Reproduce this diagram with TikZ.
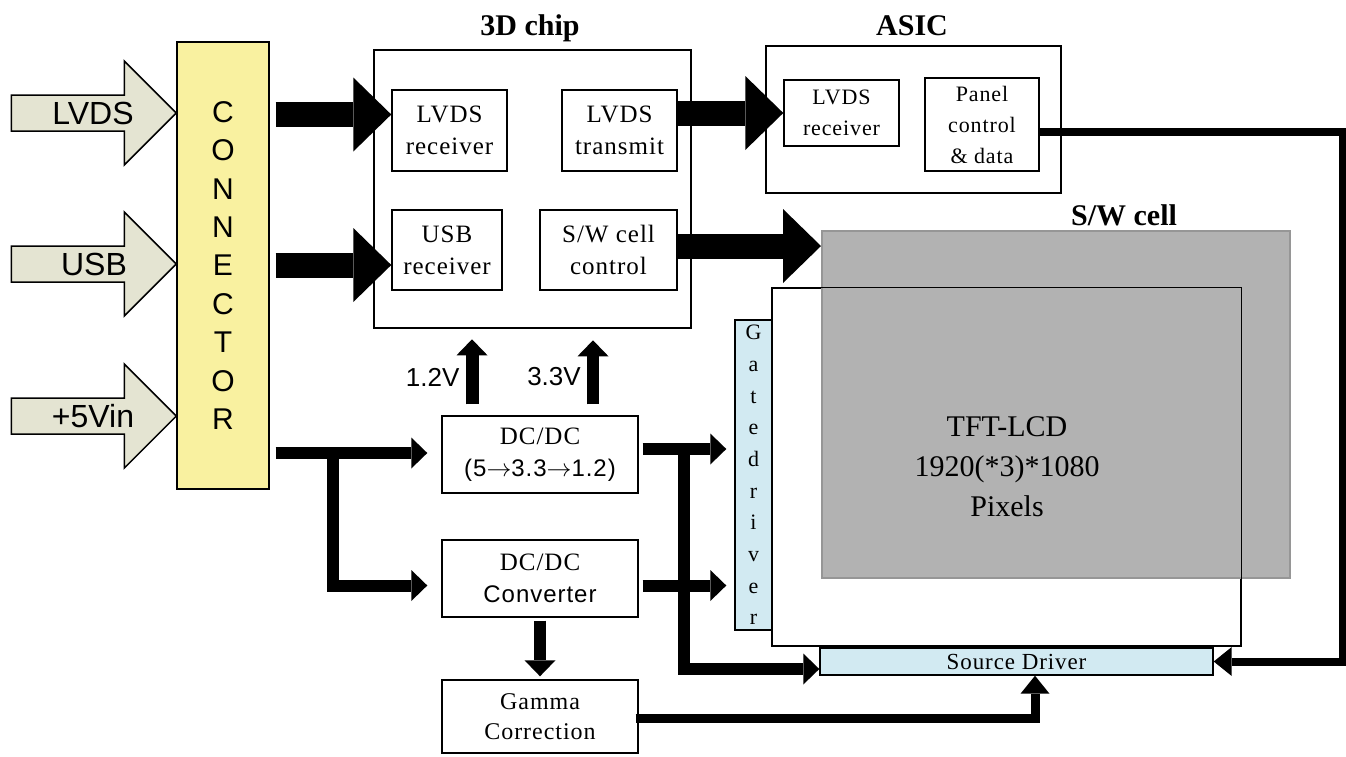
\documentclass[tikz,border=0pt]{standalone}
\usepackage{fontspec}
\setmainfont{Liberation Serif}
\newfontfamily\arialf{Liberation Sans}
\newfontfamily\spserif[LetterSpace=4]{Liberation Serif}
\newfontfamily\spsans[LetterSpace=4]{Liberation Sans}
\usetikzlibrary{arrows.meta,calc}
\definecolor{beige}{RGB}{228,228,210}
\definecolor{connyellow}{RGB}{249,241,160}
\definecolor{cellgray}{RGB}{178,178,178}
\definecolor{cellborder}{RGB}{150,150,150}
\definecolor{drvblue}{RGB}{210,234,242}
\begin{document}
\begin{tikzpicture}[x=1pt,y=-1pt,
  box/.style={draw, line width=1.4pt, fill=white, inner sep=0pt, align=center,
              font=\spserif\fontsize{25}{32}\selectfont},
  sbox/.style={box, font=\spserif\fontsize{22}{31}\selectfont},
  bigarr/.style={line width=25pt, -{Triangle[length=38pt,width=74pt,line width=0pt]}},
  pwr/.style={line width=12pt, -{Triangle[length=16pt,width=31pt,line width=0pt]}},
  sig/.style={line width=9pt, -{Triangle[length=18pt,width=29pt,line width=0pt]}},
  title/.style={font=\bfseries\fontsize{30}{36}\selectfont, anchor=base},
  lbl/.style={font=\arialf\fontsize{32}{36}\selectfont},
  inarrow/.pic={\draw[line width=1.5pt, fill=beige] (-165,-18) -- (-52,-18) -- (-52,-52) -- (0,0)
                 -- (-52,52) -- (-52,18) -- (-165,18) -- cycle;}
]
\useasboundingbox (0,0) rectangle (1346,756);

% connector
\node[draw, line width=1.4pt, fill=connyellow, minimum width=92pt, minimum height=447pt,
      inner sep=0pt, align=center, font=\arialf\fontsize{30}{38.4}\selectfont]
      (conn) at (223,265.5) {C\\O\\N\\N\\E\\C\\T\\O\\R};

% input arrows
\pic at ($(conn.west)+(0,-152.5)$) {inarrow};
\pic at ($(conn.west)+(0,-1.5)$) {inarrow};
\pic at ($(conn.west)+(0,150.5)$) {inarrow};
\node[lbl] (lL) at (93,113) {LVDS};
\node[lbl] (lU) at (94,264) {USB};
\node[lbl] (lP) at (93,416) {+5Vin};

% 3D chip
\node[draw, line width=1.4pt, minimum width=317pt, minimum height=278pt, inner sep=0pt] (chip) at (532.5,189) {};
\node[title] (tchip) at (530,35) {3D chip};
\node[box, minimum width=115pt, minimum height=81pt] (lvr) at (449.5,130.5) {LVDS\\receiver};
\node[box, minimum width=115pt, minimum height=81pt] (lvt) at (619.5,130.5) {LVDS\\transmit};
\node[box, minimum width=110pt, minimum height=80pt] (usbr) at (447,250) {USB\\receiver};
\node[box, minimum width=137pt, minimum height=80pt] (swc) at (608.5,250) {S/W cell\\control};

% ASIC
\node[draw, line width=1.4pt, minimum width=295pt, minimum height=147pt, inner sep=0pt] (asic) at (913.5,119.5) {};
\node[title] (tasic) at (912,35) {ASIC};
\node[sbox, minimum width=115pt, minimum height=66pt] (alvr) at (841.5,113) {LVDS\\receiver};
\node[sbox, minimum width=114pt, minimum height=93pt] (pcd) at (982,124.5) {Panel\\control\\\& data};

% S/W cell and panel
\node[draw, line width=1.2pt, fill=white, minimum width=469pt, minimum height=358pt, inner sep=0pt] (panel) at (1006.5,467) {};
\node[draw=cellborder, line width=2pt, fill=cellgray, minimum width=468pt, minimum height=347pt, inner sep=0pt] (gray) at (1056,404.5) {};
\draw[line width=1.2pt] (panel.north west) rectangle (panel.south east);
\node[title] (tsw) at (1124,225) {S/W cell};
\node[font=\fontsize{30}{40}\selectfont, align=center] (tft) at (1007,467) {TFT-LCD\\1920(*3)*1080\\Pixels};
\node[draw, line width=1.4pt, fill=drvblue, minimum width=37pt, minimum height=310pt, inner sep=0pt,
      align=center, font=\fontsize{22}{31.7}\selectfont] (gate) at (753.5,475) {G\\a\\t\\e\\d\\r\\i\\v\\e\\r};
\node[draw, line width=1.4pt, fill=drvblue, minimum width=393pt, minimum height=27pt, inner sep=0pt,
      font=\spserif\fontsize{23}{27}\selectfont] (src) at (1016.5,661.5) {Source Driver};

% power blocks
\node[box, minimum width=196pt, minimum height=77pt] (dc1) at (540,454.5) {DC/DC\\{\spsans\fontsize{24}{32}\selectfont (5$\rightarrow$3.3$\rightarrow$1.2)}};
\node[box, minimum width=196pt, minimum height=77pt] (dc2) at (540,578.5) {DC/DC\\{\spsans\fontsize{24}{32}\selectfont Converter}};
\node[box, minimum width=196pt, minimum height=73pt, font=\spserif\fontsize{24}{30}\selectfont] (gam) at (540,716.5) {Gamma\\Correction};
\node[font=\arialf\fontsize{26}{30}\selectfont, anchor=east] (v12) at (463,377) {1.2V};
\node[font=\arialf\fontsize{26}{30}\selectfont] (v33) at (554,377) {3.3V};

% big data arrows
\draw[bigarr] ($(conn.east |- lvr.west)+(6,-16)$) -- ($(lvr.west)+(0,-16)$);
\draw[bigarr] ($(conn.east |- usbr.west)+(6,15)$) -- ($(usbr.west)+(0,15)$);
\draw[bigarr] (lvt.east |- alvr.west) -- (alvr.west);
\draw[bigarr] ($(swc.east)+(0,-4)$) -- ($(swc.east -| gray.west)+(0,-4)$);

% power arrows
\coordinate (br) at ($(conn.east |- dc1.west)+(63,-1.5)$);
\draw[pwr] ($(conn.east |- dc1.west)+(6,-1.5)$) -- ($(dc1.west)+(-14,-1.5)$);
\draw[pwr] (br) |- ($(dc2.west)+(-14,7)$);
\coordinate (vj) at ($(dc1.east)+(45,-5.5)$);
\draw[pwr] ($(dc1.east)+(4,-5.5)$) -- ($(dc1.east -| gate.west)+(-8,-5.5)$);
\draw[pwr] ($(dc2.east)+(4,7)$) -- ($(dc2.east -| gate.west)+(-8,7)$);
\draw[pwr] (vj) |- ($(src.west)+(0,7.5)$);
\draw[pwr] ($(dc2.south)+(0,3)$) -- ($(gam.north)+(0,-3)$);
\draw[pwr, line width=13pt] ($(dc1.north)+(-68,-11)$) -- ($(dc1.north)+(-68,-76)$);
\draw[pwr] ($(dc1.north)+(53,-11)$) -- ($(dc1.north)+(53,-75)$);

% signal lines
\draw[sig] ($(gam.east)+(-3,1.5)$) -| ($(src.south)+(18.5,0)$);
\coordinate (rc) at ($(src.east)+(129,0)$);
\draw[sig, line width=8pt] ($(pcd.east)+(0,7)$) -| (rc) -- (src.east);
\end{tikzpicture}
\end{document}
